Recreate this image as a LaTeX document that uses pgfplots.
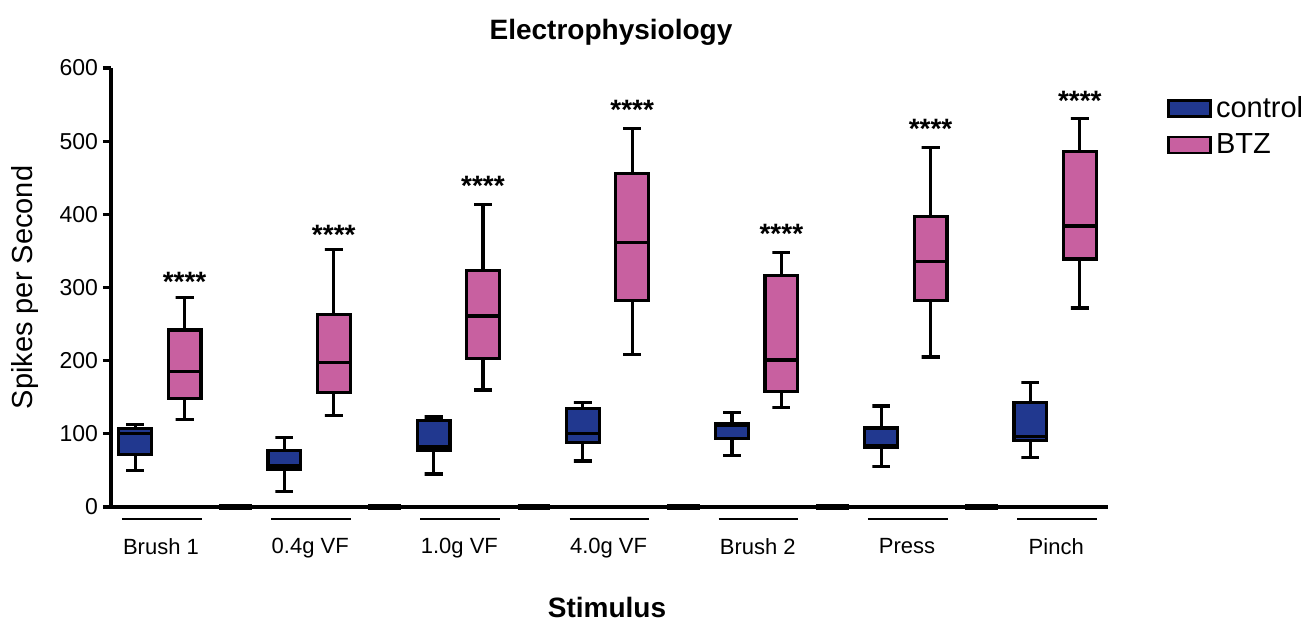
\documentclass[border=0pt]{standalone}
\usepackage{fontspec}
\setmainfont{Liberation Sans}
\usepackage{pgfplots}
\pgfplotsset{compat=1.18}

\definecolor{ctrl}{RGB}{33,56,143}
\definecolor{btz}{RGB}{200,96,160}

\pgfplotsset{
  spacer/.style={black, line width=2.6pt, forget plot},
  uline/.style={black, line width=1pt, forget plot},
}

% one box: position, lower whisker, lower quartile, median, upper quartile, upper whisker, fill
\newcommand{\bx}[7]{%
  \pgfmathsetmacro{\bxL}{#1-0.11}\pgfmathsetmacro{\bxR}{#1+0.11}%
  \pgfmathsetmacro{\capL}{#1-0.06}\pgfmathsetmacro{\capR}{#1+0.06}%
  \edef\bxtmp{%
    \noexpand\addplot[black, line width=1.6pt, forget plot] coordinates {(#1,#3) (#1,#2) (\capL,#2) (\capR,#2)};
    \noexpand\addplot[black, line width=1.6pt, forget plot] coordinates {(#1,#5) (#1,#6) (\capL,#6) (\capR,#6)};
    \noexpand\addplot[fill=#7, draw=black, line width=1.6pt, forget plot] coordinates {(\bxL,#3) (\bxR,#3) (\bxR,#5) (\bxL,#5)} -- cycle;
    \noexpand\addplot[black, line width=1.6pt, forget plot] coordinates {(\bxL,#4) (\bxR,#4)};
  }\bxtmp}

\begin{document}
\begin{tikzpicture}
\begin{axis}[
  scale only axis, width=498.5pt, height=219.5pt,
  xmin=-0.335, xmax=6.347, ymin=0, ymax=600,
  axis x line=bottom, axis y line=left,
  axis line style={-, line width=1.6pt},
  clip=false,
  ytick={0,100,...,600}, tick align=outside, major tick length=4pt,
  y tick style={line width=1.6pt, black},
  xtick={0,...,6},
  xticklabels={Brush 1,0.4g VF,1.0g VF,4.0g VF,Brush 2,Press,Pinch},
  x tick style={draw=none},
  xticklabel style={yshift=-8pt, font=\fontsize{11}{13}\selectfont},
  yticklabel style={font=\fontsize{11.5}{13}\selectfont, xshift=1pt},
  /pgf/number format/assume math mode=true,
  title={Electrophysiology},
  title style={at={(axis description cs:0.5015,1.053)}, anchor=center, yshift=0pt,
    font=\bfseries\fontsize{14}{16}\selectfont},
  xlabel={Stimulus},
  xlabel style={at={(axis description cs:0.4975,-0.228)}, anchor=center,
    font=\bfseries\fontsize{14}{16}\selectfont},
  ylabel={Spikes per Second},
  ylabel style={at={(axis description cs:-0.086,0.5)}, anchor=center,
    font=\fontsize{14.5}{16}\selectfont},
  legend style={draw=none, fill=none, at={(axis description cs:1.053,0.954)},
    anchor=north west, font=\fontsize{14.5}{16}\selectfont, row sep=2.5pt},
  legend cell align=left,
]
% pos, lower whisker, Q1, median, Q3, upper whisker
\bx{-0.173}{50}{72}{101}{107}{113}{ctrl}   \bx{0.158}{120}{148}{185}{242}{286}{btz}  % Brush 1
\bx{0.827}{21}{52}{57}{77}{95}{ctrl}       \bx{1.158}{125}{157}{197}{263}{352}{btz}  % 0.4g VF
\bx{1.827}{45}{77}{82}{118}{123}{ctrl}     \bx{2.158}{160}{203}{261}{323}{413}{btz}  % 1.0g VF
\bx{2.827}{63}{88}{101}{135}{143}{ctrl}    \bx{3.158}{208}{282}{361}{456}{517}{btz}  % 4.0g VF
\bx{3.827}{70}{94}{111}{114}{129}{ctrl}    \bx{4.158}{136}{158}{201}{316}{348}{btz}  % Brush 2
\bx{4.827}{55}{82}{84}{108}{138}{ctrl}     \bx{5.158}{205}{282}{335}{397}{491}{btz}  % Press
\bx{5.827}{68}{91}{96}{143}{170}{ctrl}     \bx{6.158}{272}{339}{384}{486}{531}{btz}  % Pinch

% empty spacer columns on the baseline
\addplot[spacer] coordinates {(0.39,0) (0.61,0)};
\addplot[spacer] coordinates {(1.39,0) (1.61,0)};
\addplot[spacer] coordinates {(2.39,0) (2.61,0)};
\addplot[spacer] coordinates {(3.39,0) (3.61,0)};
\addplot[spacer] coordinates {(4.39,0) (4.61,0)};
\addplot[spacer] coordinates {(5.39,0) (5.61,0)};
% group underlines
\addplot[uline] coordinates {(-0.262,-16.4) (0.272,-16.4)};
\addplot[uline] coordinates {(0.738,-16.4) (1.272,-16.4)};
\addplot[uline] coordinates {(1.738,-16.4) (2.272,-16.4)};
\addplot[uline] coordinates {(2.738,-16.4) (3.272,-16.4)};
\addplot[uline] coordinates {(3.738,-16.4) (4.272,-16.4)};
\addplot[uline] coordinates {(4.738,-16.4) (5.272,-16.4)};
\addplot[uline] coordinates {(5.738,-16.4) (6.272,-16.4)};

% significance stars
\node[anchor=base, inner sep=0pt, font=\bfseries\fontsize{14}{16}\selectfont] at (axis cs:0.158,294) {****};
\node[anchor=base, inner sep=0pt, font=\bfseries\fontsize{14}{16}\selectfont] at (axis cs:1.158,359) {****};
\node[anchor=base, inner sep=0pt, font=\bfseries\fontsize{14}{16}\selectfont] at (axis cs:2.158,426) {****};
\node[anchor=base, inner sep=0pt, font=\bfseries\fontsize{14}{16}\selectfont] at (axis cs:3.158,529) {****};
\node[anchor=base, inner sep=0pt, font=\bfseries\fontsize{14}{16}\selectfont] at (axis cs:4.158,360) {****};
\node[anchor=base, inner sep=0pt, font=\bfseries\fontsize{14}{16}\selectfont] at (axis cs:5.158,503) {****};
\node[anchor=base, inner sep=0pt, font=\bfseries\fontsize{14}{16}\selectfont] at (axis cs:6.158,542) {****};

\addlegendimage{legend image code/.code={\draw[fill=ctrl, draw=black, line width=1.4pt]
  (0pt,-4pt) rectangle (21pt,4pt);}}
\addlegendentry{control}
\addlegendimage{legend image code/.code={\draw[fill=btz, draw=black, line width=1.4pt]
  (0pt,-4pt) rectangle (21pt,4pt);}}
\addlegendentry{BTZ}

\coordinate (ll) at (rel axis cs:0,0);
\coordinate (ur) at (rel axis cs:1,1);
\end{axis}
\pgfresetboundingbox
\path[use as bounding box] ([shift={(-55.5pt,-57.5pt)}]ll) rectangle ([shift={(100.5pt,34pt)}]ur);
\end{tikzpicture}
\end{document}
